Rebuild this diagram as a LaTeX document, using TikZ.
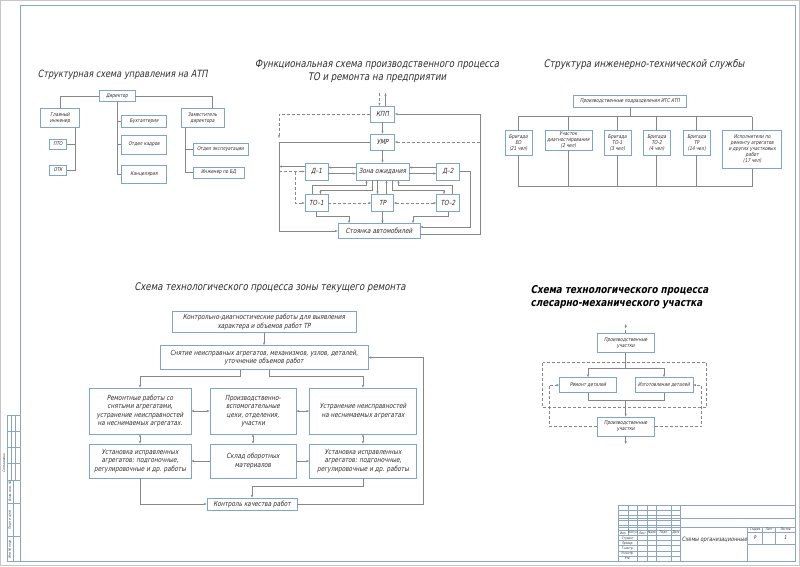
\documentclass[tikz,border=0pt]{standalone}
\usepackage{fontspec}
\setmainfont{DejaVu Sans}[FakeSlant=0.2,FakeStretch=0.82]
\usetikzlibrary{arrows.meta, calc}
\definecolor{boxblue}{RGB}{125,165,205}
\definecolor{linegray}{RGB}{135,135,135}
\definecolor{framecol}{RGB}{140,165,195}
\definecolor{inkcol}{RGB}{45,45,45}

\begin{document}
\begin{tikzpicture}[x=1pt,y=-1pt,
    >={Stealth[length=3pt,width=2.2pt]},
    blk/.style={draw=boxblue,line width=0.6pt,fill=white,align=center,inner sep=1pt,text=inkcol},
    txtsm/.style={font=\fontsize{5.2}{6}\selectfont},
    txtfn/.style={font=\fontsize{7}{8.4}\selectfont},
    txtmd/.style={font=\fontsize{7}{8.4}\selectfont},
    ttl/.style={font=\fontsize{10.5}{13}\selectfont,text=inkcol,align=center},
    stamp/.style={font=\fontsize{3.3}{4}\selectfont,text=inkcol,inner sep=0pt},
    con/.style={draw=linegray,line width=0.5pt},
    dcon/.style={con,dash pattern=on 3pt off 2pt},
    frm/.style={draw=framecol,line width=0.5pt}]
\useasboundingbox (0,0) rectangle (800,566);

% Рамка листа
\draw[gray!45] (0.5,0.5) rectangle (799.5,565.5);
\draw[frm,line width=0.8pt] (20,5) rectangle (795,561);

% ---------- Структурная схема управления на АТП
\node[ttl,anchor=west,font=\fontsize{10}{12}\selectfont] at (34,75) {Структурная схема управления на АТП};
\node[blk,txtsm,minimum width=36pt,minimum height=11pt] (dir) at (117,96) {Директор};
\node[blk,txtsm,minimum width=39pt,minimum height=19pt] (glinzh) at (60,118) {Главный\\инженер};
\node[blk,txtsm,minimum width=17pt,minimum height=10pt] (pto) at (58,144) {ПТО};
\node[blk,txtsm,minimum width=17pt,minimum height=10pt] (otk) at (58,170) {ОТК};
\node[blk,txtsm,minimum width=45pt,minimum height=12pt] (buh) at (144,121) {Бухгалтерия};
\node[blk,txtsm,minimum width=45pt,minimum height=19pt] (kadr) at (144,144.5) {Отдел кадров};
\node[blk,txtsm,minimum width=45pt,minimum height=18pt] (kanc) at (144,174) {Канцелярия};
\node[blk,txtsm,minimum width=43pt,minimum height=19pt] (zam) at (202.5,118) {Заместитель\\директора};
\node[blk,txtsm,minimum width=55pt,minimum height=12pt] (expl) at (220.5,149) {Отдел эксплуатации};
\node[blk,txtsm,minimum width=51pt,minimum height=11pt] (bd) at (218.5,172.5) {Инженер по БД};

\coordinate (gv) at ($(glinzh.south)+(15,0)$);
\coordinate (zv) at ($(zam.south)+(-17,0)$);
\draw[con] (dir.west) -| (glinzh.north);
\draw[con] (dir.east) -| ($(zam.north)+(10,0)$);
\draw[con] (dir.south) |- (kanc.west);
\draw[con] (dir.south |- buh) -- (buh.west);
\draw[con] (dir.south |- kadr) -- (kadr.west);
\draw[con] (gv) |- (otk.east);
\draw[con] (gv |- pto) -- (pto.east);
\draw[con] (zv) |- (bd.west);
\draw[con] (zv |- expl) -- (expl.west);

% ---------- Функциональная схема
\node[ttl] at (377,71.5) {Функциональная схема производственного процесса\\ТО и ремонта на предприятии};
\node[blk,txtfn,minimum width=24pt,minimum height=16pt] (kpp) at (382.5,114) {КПП};
\node[blk,txtfn,minimum width=24pt,minimum height=16pt] (umr) at (382.5,142) {УМР};
\node[blk,txtfn,minimum width=53pt,minimum height=17pt] (zona) at (382.5,171.5) {Зона ожидания};
\node[blk,txtfn,minimum width=23pt,minimum height=17pt] (d1) at (316.5,171.5) {Д–1};
\node[blk,txtfn,minimum width=23pt,minimum height=17pt] (d2) at (448,171.5) {Д–2};
\node[blk,txtfn,minimum width=23pt,minimum height=17pt] (to1) at (316.5,203) {ТО–1};
\node[blk,txtfn,minimum width=22pt,minimum height=17pt] (tr) at (382.5,203) {ТР};
\node[blk,txtfn,minimum width=23pt,minimum height=17pt] (to2) at (448,203) {ТО–2};
\node[blk,txtfn,minimum width=82pt,minimum height=15pt] (stoy) at (379,231) {Стоянка автомобилей};

\coordinate (kin) at (379.5,93);
\coordinate (kout) at (385.5,93);
\coordinate (L) at (279,0);
\coordinate (R) at (480,0);
\coordinate (R2) at (470,0);
\coordinate (D) at (295,0);

\draw[dcon,->] (kin) -- (kin |- kpp.north);
\draw[con,->] (kout |- kpp.north) -- (kout);
\draw[con,->] (kpp) -- (umr);
\draw[con,->] (umr) -- (zona);
\draw[dcon,->] (kpp.west) -| ($(umr.west -| L)+(0,-4)$);
\draw[con,->] (umr.west) -| (stoy.west -| L) -- (stoy.west);
\draw[con,->] ($(stoy.east)+(0,3)$) -| (kpp.east -| R) -- (kpp.east);
\draw[dcon,->] (umr.east -| R) -- (umr.east);
\draw[con,->] ($(d1.west)+(0,-5)$) -- ($(d1.west -| L)+(0,-5)$);
\draw[dcon,->] (d1.west -| L) -- (d1.west);
\draw[dcon,->] (d1.west -| D) |- (to1.west);
\draw[con,->] ($(zona.west)+(0,-4)$) -- ($(d1.east)+(0,-4)$);
\draw[con,->] ($(d1.east)+(0,2)$) -- ($(zona.west)+(0,2)$);
\draw[con,->] ($(d2.west)+(0,-4)$) -- ($(zona.east)+(0,-4)$);
\draw[con,->] ($(zona.east)+(0,2)$) -- ($(d2.west)+(0,2)$);
\draw[con,->] (d2.east) -| ($(stoy.east -| R2)+(0,-4)$) -- ($(stoy.east)+(0,-4)$);
\draw[con,->] ($(to1.north)+(-4,0)$) |- ($(zona.south)+(-16,4.5)$) -- ($(zona.south)+(-16,0)$);
\draw[con,->] ($(zona.south)+(-10,0)$) -- ($(zona.south)+(-10,9.5)$) -| ($(to1.north)+(4,0)$);
\draw[con,->] ($(to2.north)+(4,0)$) |- ($(zona.south)+(16,4.5)$) -- ($(zona.south)+(16,0)$);
\draw[con,->] ($(zona.south)+(10,0)$) -- ($(zona.south)+(10,9.5)$) -| ($(to2.north)+(-4,0)$);
\draw[con,->] ($(zona.south)+(-5,0)$) -- ($(tr.north)+(-5,0)$);
\draw[con,->] ($(tr.north)+(4,0)$) -- ($(zona.south)+(4,0)$);
\draw[dcon,->] (to1) -- (tr);
\draw[dcon,<->] (tr) -- (to2);
\draw[con,->] (to1.south) |- ($(stoy.north)+(-30,-7)$) -- ($(stoy.north)+(-30,0)$);
\draw[con,->] (tr) -- (tr |- stoy.north);
\draw[con,->] (to2.south) |- ($(stoy.north)+(34,-7)$) -- ($(stoy.north)+(34,0)$);

% ---------- Структура ИТС
\node[ttl] at (644,65) {Структура инженерно-технической службы};
\node[blk,txtsm,minimum width=113pt,minimum height=12pt] (its) at (630,101) {Производственные подразделения ИТС АТП};
\node[blk,txtsm,minimum width=27pt,minimum height=25pt] (eo) at (518.3,142.5) {Бригада\\ЕО\\(21 чел)};
\node[blk,txtsm,minimum width=47pt,minimum height=20pt] (diag) at (568.3,140) {Участок\\диагностирования\\(2 чел)};
\node[blk,txtsm,minimum width=27pt,minimum height=25pt] (bto1) at (617.3,142.5) {Бригада\\ТО-1\\(3 чел)};
\node[blk,txtsm,minimum width=27pt,minimum height=25pt] (bto2) at (656.7,142.5) {Бригада\\ТО-2\\(4 чел)};
\node[blk,txtsm,minimum width=27pt,minimum height=25pt] (btr) at (696.7,142.5) {Бригада\\ТР\\(14 чел)};
\node[blk,txtsm,minimum width=59pt,minimum height=38pt] (isp) at (752.2,149.2) {Исполнители по\\ремонту агрегатов\\и других участковых\\работ\\(17 чел)};

\coordinate (t3) at (0,116.7);
\coordinate (u3) at (0,186.7);
\draw[con] (its) -- (its |- t3);
\draw[con] (eo |- t3) -- (isp |- t3);
\draw[con] (eo |- u3) -- (isp |- u3);
\foreach \n in {eo,diag,bto1,bto2,btr,isp}{
  \draw[con] (\n |- t3) -- (\n.north);
  \draw[con] (\n.south) -- (\n |- u3);
}

% ---------- Зона текущего ремонта
\node[ttl] at (270,288) {Схема технологического процесса зоны текущего ремонта};
\node[blk,txtmd,minimum width=184pt,minimum height=21pt] (kontr) at (264,322) {Контрольно-диагностические работы для выявления\\характера и объемов работ ТР};
\node[blk,txtmd,minimum width=208pt,minimum height=24pt] (snyat) at (264,357.5) {Снятие неисправных агрегатов, механизмов, узлов, деталей,\\уточнение объемов работ};
\node[blk,txtmd,minimum width=102pt,minimum height=46pt] (rem) at (140,411) {Ремонтные работы со\\снятыми агрегатами,\\устранение неисправностей\\на неснимаемых агрегатах.};
\node[blk,txtmd,minimum width=86pt,minimum height=46pt] (proizv) at (253,411) {Производственно-\\вспомогательные\\цехи, отделения,\\участки};
\node[blk,txtmd,minimum width=107pt,minimum height=46pt] (ustr) at (363,411) {Устранение неисправностей\\на неснимаемых агрегатах};
\node[blk,txtmd,minimum width=102pt,minimum height=34pt] (ustL) at (140,461) {Установка исправленных\\агрегатов: подгоночные,\\регулировочные и др. работы};
\node[blk,txtmd,minimum width=86pt,minimum height=34pt] (sklad) at (253,461) {Склад оборотных\\материалов};
\node[blk,txtmd,minimum width=107pt,minimum height=34pt] (ustR) at (363,461) {Установка исправленных\\агрегатов: подгоночные,\\регулировочные и др. работы};
\node[blk,txtmd,minimum width=90pt,minimum height=12pt] (kach) at (252,504) {Контроль качества работ};

\coordinate (fb4) at (423,0);
\draw[con,->] (kontr) -- (snyat);
\draw[con,->] ($(snyat.south)+(-24,0)$) -- ($(snyat.south)+(-24,6.5)$) -| (rem.north);
\draw[con,->] ($(snyat.south)+(5,0)$) -- ($(snyat.south)+(5,6.5)$) -| (ustr.north);
\draw[con,<->] (rem) -- (proizv);
\draw[con,<->] (proizv) -- (ustr);
\draw[con,<->] (rem) -- (ustL);
\draw[con,<->] (proizv) -- (sklad);
\draw[con,<->] (ustr) -- (ustR);
\draw[con,->] (sklad) -- (ustL);
\draw[con,->] (sklad) -- (ustR);
\draw[con,->] (ustL.south) |- (kach.west);
\draw[con,->] (ustR.south) |- ($(kach.north)+(0,-11)$) -- (kach.north);
\draw[con,->] (kach.east) -| (snyat.east -| fb4) -- (snyat.east);

% ---------- Слесарно-механический участок
\node[ttl,anchor=west,align=left,text=black,font=\fontsize{10.8}{13}\selectfont\bfseries] at (527,297) {Схема технологического процесса\\слесарно-механического участка};
\node[blk,txtsm,minimum width=57pt,minimum height=19pt] (pu1) at (625.7,343) {Производственные\\участки};
\node[blk,txtsm,minimum width=57pt,minimum height=15pt] (remd) at (588,385) {Ремонт деталей};
\node[blk,txtsm,minimum width=58pt,minimum height=15pt] (izg) at (664,385) {Изготовление деталей};
\node[blk,txtsm,minimum width=57pt,minimum height=19pt] (pu2) at (625.7,426.3) {Производственные\\участки};
\draw[dcon] (542.7,362.7) rectangle (706.7,407.3);

\coordinate (top5) at (625.7,324);
\coordinate (bot5) at (625.7,444);
\coordinate (sl5) at (549.3,0);
\coordinate (sr5) at (701.7,0);
\draw[dcon,->] (pu1) -- (top5);
\draw[con,->] (pu1.south) -- ($(pu1.south)+(0,15.8)$) -| (remd.north);
\draw[con,->] ($(pu1.south)+(0,15.8)$) -| (izg.north);
\draw[con] (remd.south) |- ($(pu2.north)+(0,-16)$) -| (izg.south);
\draw[con,->] ($(pu2.north)+(0,-16)$) -- (pu2.north);
\draw[con,->] (pu2) -- (bot5);
\draw[dcon,->] (pu2.west) -| (remd.west -| sl5) -- (remd.west);
\draw[dcon,->] (pu2.east) -| (izg.east -| sr5) -- (izg.east);

% ---------- Штамп
\draw[frm] (618.3,505) rectangle (795,561);
\draw[frm] (618.3,518) -- (795,518);
\draw[frm] (618.3,527) -- (795,527);
\foreach \k in {1,...,10}
  \draw[frm] (618.3,505+5.09*\k) -- (680.6,505+5.09*\k);
\draw[frm] (628,505) -- (628,535.6);
\foreach \x in {637.5,647,656.6,671,680.6}
  \draw[frm] (\x,505) -- (\x,561);
\draw[frm] (747.3,527) -- (747.3,561);
\draw[frm] (747.3,532) -- (795,532);
\draw[frm] (747.3,544) -- (795,544);
\draw[frm] (762.3,527) -- (762.3,544);
\draw[frm] (775.7,527) -- (775.7,544);
\node[stamp] at (623.1,533) {Изм.};
\node[stamp] at (632.8,533) {Кол.уч};
\node[stamp] at (642.3,533) {Лист};
\node[stamp] at (651.8,533) {№док};
\node[stamp] at (663.8,533) {Подп.};
\node[stamp] at (675.8,533) {Дата};
\node[stamp] at (627.5,538.2) {Студент};
\node[stamp] at (627.5,543.3) {Провер.};
\node[stamp] at (627.5,548.4) {Т.контр.};
\node[stamp] at (627.5,553.4) {Н.контр.};
\node[stamp] at (627.5,558.5) {Утв.};
\node[font=\fontsize{6}{7}\selectfont,text=inkcol] at (714.5,539.5) {Схемы организационные};
\node[stamp] at (754.8,529.5) {Стадия};
\node[stamp] at (769,529.5) {Лист};
\node[stamp] at (785.3,529.5) {Листов};
\node[font=\fontsize{5}{6}\selectfont,text=inkcol] at (754.8,538) {Р};
\node[font=\fontsize{5}{6}\selectfont,text=inkcol] at (785.3,538) {1};

% Боковой штамп
\draw[frm] (7,415) rectangle (20,561);
\draw[frm] (13,480) -- (13,561);
\foreach \y in {480,503.3,536.7}
  \draw[frm] (7,\y) -- (20,\y);
\foreach \x in {11.3,15.6}
  \draw[frm] (\x,415) -- (\x,480);
\foreach \y in {431,447,463}
  \draw[frm] (7,\y) -- (20,\y);
\node[stamp,rotate=90] at (10,491.6) {Взам. инв. №};
\node[stamp,rotate=90] at (10,520) {Подп. и дата};
\node[stamp,rotate=90] at (10,549) {Инв. № подл.};
\node[stamp,rotate=90] at (4,463) {Согласовано};
\end{tikzpicture}
\end{document}
